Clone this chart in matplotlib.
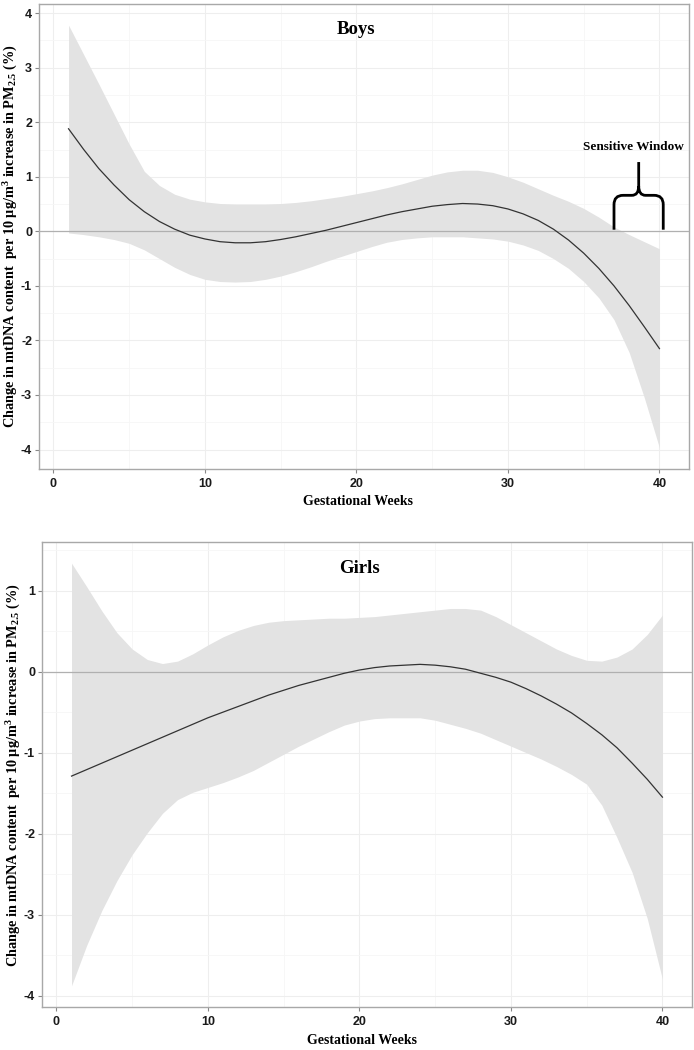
import numpy as np
import matplotlib
matplotlib.use("Agg")
import matplotlib.pyplot as plt
from matplotlib.path import Path
from matplotlib.patches import PathPatch
from matplotlib.ticker import MultipleLocator

plt.rcParams['mathtext.fontset'] = 'custom'
plt.rcParams['mathtext.rm'] = 'Liberation Serif:bold'
plt.rcParams['mathtext.it'] = 'Liberation Serif:bold'
plt.rcParams['mathtext.bf'] = 'Liberation Serif:bold'
plt.rcParams['axes.unicode_minus'] = False

weeks = np.arange(1, 41)

# Boys: estimate with 95% band
boys_fit = [1.88, 1.50, 1.15, 0.85, 0.58, 0.36, 0.18, 0.04, -0.07, -0.14,
            -0.19, -0.21, -0.21, -0.19, -0.15, -0.10, -0.04, 0.02, 0.09, 0.16,
            0.23, 0.30, 0.36, 0.41, 0.46, 0.49, 0.51, 0.50, 0.47, 0.41,
            0.32, 0.20, 0.04, -0.16, -0.40, -0.68, -1.00, -1.36, -1.75, -2.15]
boys_upper = [3.78, 3.24, 2.70, 2.15, 1.60, 1.10, 0.84, 0.68, 0.59, 0.54,
              0.51, 0.50, 0.50, 0.50, 0.51, 0.53, 0.56, 0.60, 0.64, 0.69,
              0.74, 0.80, 0.87, 0.95, 1.03, 1.09, 1.12, 1.12, 1.08, 1.00,
              0.90, 0.78, 0.66, 0.55, 0.42, 0.26, 0.08, -0.06, -0.19, -0.32]
boys_lower = [-0.03, -0.06, -0.10, -0.15, -0.22, -0.34, -0.50, -0.66, -0.79, -0.88,
              -0.92, -0.93, -0.92, -0.88, -0.82, -0.74, -0.65, -0.55, -0.46, -0.37,
              -0.28, -0.20, -0.15, -0.12, -0.10, -0.10, -0.10, -0.12, -0.14, -0.18,
              -0.25, -0.35, -0.50, -0.68, -0.92, -1.22, -1.62, -2.22, -3.05, -3.97]

# Girls
girls_fit = [-1.29, -1.21, -1.13, -1.05, -0.97, -0.89, -0.81, -0.73, -0.65, -0.57,
             -0.50, -0.43, -0.36, -0.29, -0.23, -0.17, -0.12, -0.07, -0.02, 0.02,
             0.05, 0.07, 0.08, 0.09, 0.08, 0.06, 0.03, -0.02, -0.07, -0.13,
             -0.21, -0.30, -0.40, -0.51, -0.64, -0.78, -0.94, -1.13, -1.33, -1.55]
girls_upper = [1.34, 1.05, 0.75, 0.48, 0.28, 0.15, 0.10, 0.13, 0.22, 0.33,
               0.43, 0.51, 0.57, 0.61, 0.63, 0.64, 0.65, 0.66, 0.66, 0.67,
               0.68, 0.70, 0.72, 0.74, 0.76, 0.78, 0.78, 0.76, 0.68, 0.58,
               0.48, 0.38, 0.28, 0.20, 0.14, 0.13, 0.18, 0.28, 0.46, 0.70]
girls_lower = [-3.88, -3.38, -2.95, -2.58, -2.26, -1.99, -1.75, -1.58, -1.49, -1.43,
               -1.37, -1.30, -1.22, -1.12, -1.02, -0.92, -0.83, -0.74, -0.66, -0.61,
               -0.58, -0.57, -0.57, -0.57, -0.60, -0.65, -0.70, -0.76, -0.84, -0.92,
               -1.00, -1.08, -1.17, -1.27, -1.39, -1.65, -2.05, -2.48, -3.05, -3.80]

x_ticks = [0, 10, 20, 30, 40]
boys_yticks = [-4, -3, -2, -1, 0, 1, 2, 3, 4]
girls_yticks = [-4, -3, -2, -1, 0, 1]

ylab = r"Change in mtDNA content  per 10 $\mathrm{\mu}$g/m$^3$ increase in PM$_{2.5}$ (%)"
serif = "Liberation Serif"


def style_panel(ax, lo, hi, yticks):
    pad_y = 0.05 * (hi - lo)
    ax.set_xlim(1 - 1.95, 40 + 1.95)
    ax.set_ylim(lo - pad_y, hi + pad_y)
    ax.set_xticks(x_ticks)
    ax.set_yticks(yticks)
    ax.xaxis.set_minor_locator(MultipleLocator(5))
    ax.yaxis.set_minor_locator(MultipleLocator(0.5))
    ax.grid(which='major', color='#eeeeee', lw=0.8)
    ax.grid(which='minor', color='#f6f6f6', lw=0.6)
    ax.set_axisbelow(True)
    for s in ax.spines.values():
        s.set_color('#a8a8a8')
        s.set_linewidth(1.0)
    ax.tick_params(which='major', length=3, width=0.8, color='#888888',
                   labelsize=9, pad=2)
    ax.tick_params(axis='x', pad=3.5)
    ax.tick_params(which='minor', length=0)
    for lab in ax.get_xticklabels() + ax.get_yticklabels():
        lab.set_fontfamily('Liberation Sans')
        lab.set_fontweight('bold')
        lab.set_color('#1a1a1a')


def draw(ax, fit, lower, upper):
    ax.fill_between(weeks, lower, upper, color='#e3e3e3', lw=0, zorder=2)
    ax.axhline(0, color='#b0b0b0', lw=0.9, zorder=3)
    ax.plot(weeks, fit, color='#333333', lw=0.9, zorder=4)


fig = plt.figure(figsize=(6.94, 10.5), dpi=100)
ax1 = fig.add_axes([0.0562, 0.5533, 0.9366, 0.4429])
ax2 = fig.add_axes([0.0605, 0.0410, 0.9366, 0.4428])

draw(ax1, boys_fit, boys_lower, boys_upper)
style_panel(ax1, min(boys_lower), max(boys_upper), boys_yticks)
draw(ax2, girls_fit, girls_lower, girls_upper)
style_panel(ax2, min(girls_lower), max(girls_upper), girls_yticks)

ax1.text(20, 3.7, "Boys", ha='center', va='center', fontsize=13.5,
         fontweight='bold', family=serif)
ax2.text(20, 1.28, "Girls", ha='center', va='center', fontsize=13.5,
         fontweight='bold', family=serif)

# sensitive window brace
bx0, bx1, bmid = 37.0, 40.25, 38.63
by0, byh, bytop = 0.03, 0.66, 1.27
rx, ry = 0.6, 0.17
verts = [(bx0, by0), (bx0, byh - ry), (bx0, byh), (bx0 + rx, byh),
         (bmid - 0.45, byh), (bmid, byh), (bmid, byh + ry), (bmid, bytop),
         (bmid, byh + ry), (bmid, byh), (bmid + 0.45, byh),
         (bx1 - rx, byh), (bx1, byh), (bx1, byh - ry), (bx1, by0)]
codes = [Path.MOVETO, Path.LINETO, Path.CURVE3, Path.CURVE3,
         Path.LINETO, Path.CURVE3, Path.CURVE3, Path.LINETO,
         Path.MOVETO, Path.CURVE3, Path.CURVE3,
         Path.LINETO, Path.CURVE3, Path.CURVE3, Path.LINETO]
ax1.add_patch(PathPatch(Path(verts, codes), fill=False, lw=2.0,
                        color='black', zorder=5, capstyle='butt'))
ax1.text(38.3, 1.55, "Sensitive Window", ha='center', va='center',
         fontsize=9.5, fontweight='bold', family=serif)

fig.text(0.516, 0.522, "Gestational Weeks", ha='center', va='center',
         fontsize=10, fontweight='bold', family=serif)
fig.text(0.521, 0.009, "Gestational Weeks", ha='center', va='center',
         fontsize=10, fontweight='bold', family=serif)
fig.text(0.016, 0.775, ylab, rotation=90, ha='center', va='center',
         fontsize=10.3, fontweight='bold', family=serif)
fig.text(0.020, 0.262, ylab, rotation=90, ha='center', va='center',
         fontsize=10.3, fontweight='bold', family=serif)

fig.savefig("out.png", dpi=100)
